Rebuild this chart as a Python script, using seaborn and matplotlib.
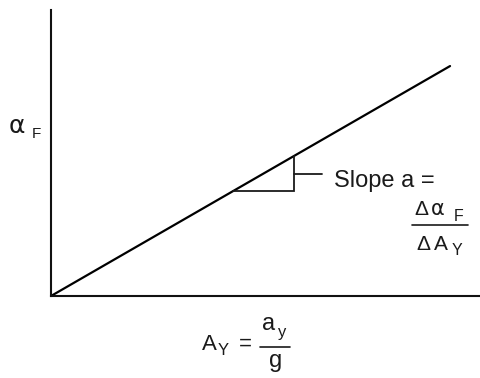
import matplotlib
matplotlib.use("Agg")
import matplotlib.pyplot as plt
import seaborn as sns
import pandas as pd

# Linear relation: alpha_F grows with lateral acceleration A_Y
A_Y = [0.0, 9.28]
alpha_F = [0.0, 8.04]

# Slope triangle span along A_Y, and height of the callout leader
tri_A = [4.23, 5.65]
leader_A = [5.65, 6.30]
leader_alpha = 4.27

sns.set_style("white")
plt.rcParams["font.family"] = ["Liberation Sans", "DejaVu Sans"]

W, H = 481, 378
fig = plt.figure(figsize=(W / 100, H / 100), dpi=100)
ax = fig.add_axes([51 / W, (H - 296) / H, (W - 51) / W, (296 - 10) / H])

df = pd.DataFrame({"A_Y": A_Y, "alpha_F": alpha_F})
sns.lineplot(data=df, x="A_Y", y="alpha_F", ax=ax, color="black", linewidth=1.6)

slope = (alpha_F[1] - alpha_F[0]) / (A_Y[1] - A_Y[0])
y0 = slope * tri_A[0]
y1 = slope * tri_A[1]
ax.plot([tri_A[0], tri_A[1], tri_A[1]], [y0, y0, y1], color="#1a1a1a", linewidth=1.3,
        solid_joinstyle="miter")
ax.plot(leader_A, [leader_alpha, leader_alpha], color="#1a1a1a", linewidth=1.3)

ax.set_xlim(0, 10)
ax.set_ylim(0, 10)
ax.set_xticks([])
ax.set_yticks([])
ax.set_xlabel("")
ax.set_ylabel("")
for side in ("top", "right"):
    ax.spines[side].set_visible(False)
for side in ("left", "bottom"):
    ax.spines[side].set_linewidth(1.5)
    ax.spines[side].set_color("#111111")


def put(px, py, s, size, **kw):
    fig.text(px / W, 1 - py / H, s, fontsize=size, ha="left", va="baseline",
             color="#1a1a1a", **kw)


GREEK = ["DejaVu Sans"]

# y-axis label: alpha_F
put(9, 133, "α", 18, family=GREEK)
put(32, 138, "F", 11)

# slope callout
put(334, 187, "Slope a =", 17)
put(414, 215, "Δ", 15)
put(431, 215, "α", 15, family=GREEK)
put(454, 221, "F", 11.5)
fig.add_artist(plt.Line2D([412 / W, 468 / W], [1 - 225 / H, 1 - 225 / H],
                          color="#1a1a1a", linewidth=1.2))
put(416, 250, "Δ", 15)
put(434, 250, "A", 15)
put(452, 255, "Y", 11.5)

# x-axis label: A_Y = a_y / g
put(202, 350, "A", 16)
put(218, 355, "Y", 12)
put(239, 350, "=", 16)
put(262, 330, "a", 17)
put(278, 337, "y", 12)
fig.add_artist(plt.Line2D([260 / W, 290 / W], [1 - 347 / H, 1 - 347 / H],
                          color="#1a1a1a", linewidth=1.2))
put(269, 367, "g", 17)

fig.savefig("out.png", dpi=100)
